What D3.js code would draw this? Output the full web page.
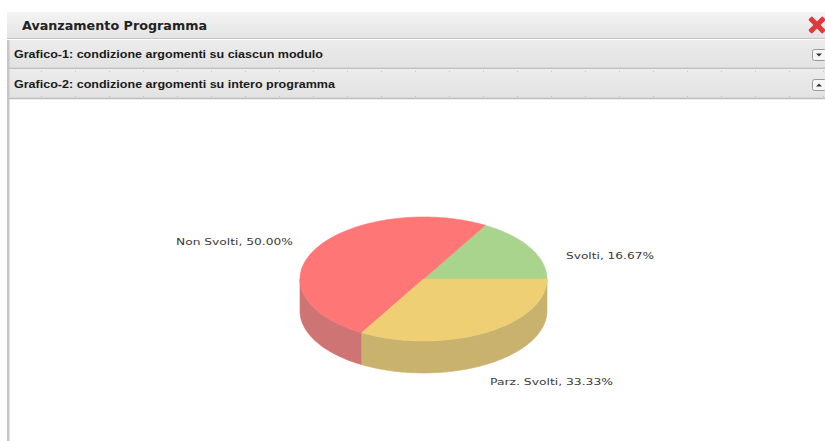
<!DOCTYPE html>
<html>
<head>
<meta charset="utf-8">
<script src="https://cdn.jsdelivr.net/npm/d3@7"></script>
<style>
  html, body { margin: 0; padding: 0; background: #fff; }
  svg { display: block; }
</style>
</head>
<body>
<svg id="chart" width="825" height="441"></svg>
<script>
// Panel texts
const panelTitle = "Avanzamento Programma";
const sectionTitles = [
  "Grafico-1: condizione argomenti su ciascun modulo",
  "Grafico-2: condizione argomenti su intero programma"
];

// Pie data: topic status across the whole programme (percent)
const categories = ["Svolti", "Non Svolti", "Parz. Svolti"];
const values = [16.67, 50.00, 33.33];
const topColors = ["#a9d48e", "#ff7676", "#efcf73"];
const sideColors = ["#8fb676", "#cf7474", "#c9b26e"];

const svg = d3.select("#chart");
const W = 825, H = 441;

// ---------- panel chrome ----------
const defs = svg.append("defs");
const g1 = defs.append("linearGradient").attr("id", "barGrad").attr("x1", 0).attr("y1", 0).attr("x2", 0).attr("y2", 1);
g1.append("stop").attr("offset", "0%").attr("stop-color", "#f4f4f4");
g1.append("stop").attr("offset", "100%").attr("stop-color", "#e3e3e3");
const g2 = defs.append("linearGradient").attr("id", "rowGrad").attr("x1", 0).attr("y1", 0).attr("x2", 0).attr("y2", 1);
g2.append("stop").attr("offset", "0%").attr("stop-color", "#ececec");
g2.append("stop").attr("offset", "100%").attr("stop-color", "#e2e2e2");

// title bar
svg.append("rect").attr("x", 7).attr("y", 12).attr("width", W - 7).attr("height", 27).attr("fill", "url(#barGrad)");
svg.append("line").attr("x1", 7).attr("x2", W).attr("y1", 38.5).attr("y2", 38.5).attr("stroke", "#c4c4c4");
svg.append("text").attr("x", 22).attr("y", 30)
  .attr("font-family", "DejaVu Sans, sans-serif").attr("font-weight", "bold").attr("font-size", 12)
  .attr("fill", "#222").attr("textLength", 185).attr("lengthAdjust", "spacingAndGlyphs")
  .text(panelTitle);

// close icon
const xg = svg.append("g").attr("transform", "translate(817,25) rotate(45)");
xg.append("rect").attr("x", -10).attr("y", -2.6).attr("width", 20).attr("height", 5.2).attr("rx", 1.5).attr("fill", "#dd3b3b");
xg.append("rect").attr("x", -2.6).attr("y", -10).attr("width", 5.2).attr("height", 20).attr("rx", 1.5).attr("fill", "#dd3b3b");

// section rows
const rowTop = [40, 70];
rowTop.forEach((y, i) => {
  svg.append("rect").attr("x", 7).attr("y", y).attr("width", W - 7).attr("height", 28).attr("fill", "url(#rowGrad)");
  svg.append("line").attr("x1", 7).attr("x2", W).attr("y1", y + 28.5).attr("y2", y + 28.5).attr("stroke", "#bdbdbd").attr("stroke-width", 1.5);
  svg.append("text").attr("x", 14).attr("y", y + 18)
    .attr("font-family", "Liberation Sans, Arial, sans-serif").attr("font-weight", "bold").attr("font-size", 10.5)
    .attr("fill", "#1a1a1a").attr("textLength", i === 0 ? 309 : 321).attr("lengthAdjust", "spacingAndGlyphs")
    .text(sectionTitles[i]);
  // toggle button
  svg.append("rect").attr("x", 812.5).attr("y", y + 9.5).attr("width", 14).attr("height", 11).attr("rx", 2)
    .attr("fill", "#f6f6f6").attr("stroke", "#9a9a9a");
  const ty = y + 15;
  svg.append("path")
    .attr("d", i === 0 ? `M816,${ty - 1.5}L822,${ty - 1.5}L819,${ty + 1.5}Z` : `M816,${ty + 1.5}L822,${ty + 1.5}L819,${ty - 1.5}Z`)
    .attr("fill", "#333");
});
// dotted separators around the open (second) row
[71.5, 96.5].forEach(y => {
  svg.append("line").attr("x1", 7).attr("x2", W).attr("y1", y).attr("y2", y)
    .attr("stroke", "#c2c2c2").attr("stroke-dasharray", "1,33");
});

// left border of panel content
svg.append("rect").attr("x", 7).attr("y", 40).attr("width", 2.5).attr("height", H - 40).attr("fill", "#c6c6c6");

// ---------- 3D pie ----------
const cx = 423.5, cy = 279, rx = 123.5, ry = 62, depth = 32;

const pie = d3.pie().sort(null).value(d => d)
  .startAngle(Math.PI / 2).endAngle(Math.PI / 2 - 2 * Math.PI);
const arcs = pie(values).map((a, i) => ({
  i, lo: Math.min(a.startAngle, a.endAngle), hi: Math.max(a.startAngle, a.endAngle)
}));

const px = a => cx + rx * Math.sin(a);
const py = (a, dy = 0) => cy - ry * Math.cos(a) + dy;

function ellipseArc(a0, a1, dy) {
  const pts = [];
  const n = Math.max(8, Math.ceil(Math.abs(a1 - a0) / 0.02));
  for (let k = 0; k <= n; k++) {
    const a = a0 + (a1 - a0) * k / n;
    pts.push([px(a), py(a, dy)]);
  }
  return pts;
}

// front (visible) angular windows
const frontWins = [[-1.5 * Math.PI, -0.5 * Math.PI], [0.5 * Math.PI, 1.5 * Math.PI]];
const line = d3.line();
const sides = svg.append("g");
arcs.forEach(s => {
  frontWins.forEach(w => {
    const lo = Math.max(s.lo, w[0]), hi = Math.min(s.hi, w[1]);
    if (hi - lo > 1e-6) {
      const top = ellipseArc(lo, hi, 0);
      const bot = ellipseArc(hi, lo, depth);
      sides.append("path").attr("d", line(top.concat(bot)) + "Z")
        .attr("fill", sideColors[s.i]).attr("stroke", sideColors[s.i]).attr("stroke-width", 0.6);
    }
  });
});

const tops = svg.append("g");
arcs.forEach(s => {
  const pts = [[cx, cy]].concat(ellipseArc(s.lo, s.hi, 0));
  tops.append("path").attr("d", line(pts) + "Z")
    .attr("fill", topColors[s.i]).attr("stroke", topColors[s.i]).attr("stroke-width", 0.6);
});

// ---------- labels ----------
const fmt = d3.format(".2f");
const labelPos = [
  { x: 566, y: 259, len: 88 },
  { x: 176, y: 245, len: 117 },
  { x: 490, y: 385, len: 123 }
];
categories.forEach((c, i) => {
  svg.append("text").attr("x", labelPos[i].x).attr("y", labelPos[i].y)
    .attr("font-family", "DejaVu Sans, sans-serif").attr("font-size", 9.5)
    .attr("fill", "#3a3a3a").attr("textLength", labelPos[i].len).attr("lengthAdjust", "spacingAndGlyphs")
    .text(`${c}, ${fmt(values[i])}%`);
});
</script>
</body>
</html>
